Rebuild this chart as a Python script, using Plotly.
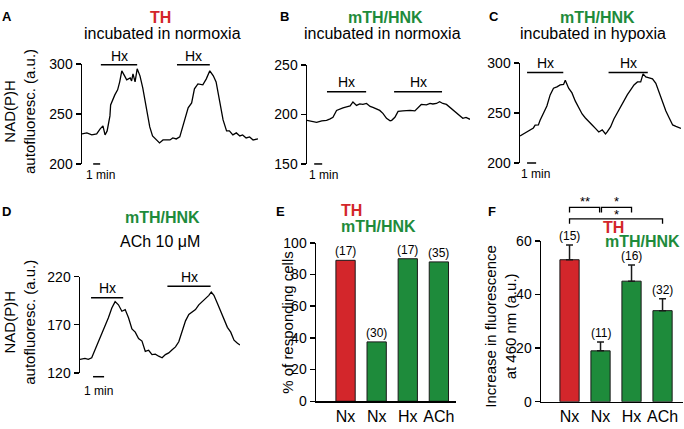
import plotly.graph_objects as go

# ---------------- DATA ----------------
# Panel A: TH, incubated in normoxia (time in min, NAD(P)H autofluorescence a.u.)
A_t = [0, 0.7, 1.4, 2.1, 2.6, 3.0, 3.3, 3.6, 4.0, 4.1, 4.7, 5.1, 5.4, 5.7, 6.1, 6.4, 6.9, 7.1, 7.3, 7.6,
       7.9, 8.3, 8.7, 9.1, 9.4, 9.7, 10.1, 10.7, 11.1, 11.6, 12.1, 12.6, 13.0, 13.5, 14.0, 14.3, 14.7, 15.2,
       15.7, 16.1, 16.6, 17.1, 17.3, 17.8, 18.3, 18.8, 19.2, 19.7, 20.2, 20.7, 21.1, 21.6, 22.1, 22.6, 23.0,
       23.5, 24.0, 24.5, 25.2]
A_v = [230, 231, 229, 230, 235, 238, 229, 233, 248, 259, 269, 274, 282, 293, 288, 284, 286, 283, 290, 282,
       295, 288, 276, 260, 247, 237, 228, 224, 221, 224, 224, 224, 226, 225, 227, 234, 245, 256,
       261, 275, 280, 279, 279, 285, 293, 288, 282, 263, 244, 233, 233, 229, 231, 228, 229,
       226, 227, 224, 225]
A_hx = [(2.7, 7.9), (13.6, 18.3)]
A_scale = 1.6

# Panel B: mTH/HNK, incubated in normoxia
B_t = [0, 0.75, 1.2, 1.85, 2.45, 2.9, 3.25, 3.7, 4.1, 4.5, 4.95, 5.4, 5.75, 6.2, 6.6, 7.0, 7.45, 7.9, 8.25,
       8.7, 9.1, 9.5, 9.95, 10.4, 10.6, 11.0, 11.4, 12.0, 12.9, 13.5, 13.9, 14.3, 14.95, 15.4, 15.75, 16.2,
       16.6, 17.0, 17.45, 17.9, 18.25, 18.7, 19.1, 19.5, 19.9, 20.4]
B_v = [194, 193, 192, 193.5, 194, 195.5, 197, 204, 205.5, 206.5, 207.5, 208.5, 212.5, 209, 210.5, 210, 211,
       208, 207, 205.5, 204, 201, 196, 193.5, 194, 197, 203, 203.5, 204, 203.5, 206.5, 210, 209.5, 211,
       210.5, 211, 212.8, 211, 210, 207, 204, 201, 198.5, 196, 197, 195]
B_hx = [(2.5, 7.4), (10.9, 16.9)]
B_scale = 0.9

# Panel C: mTH/HNK, incubated in hypoxia
C_t = [0, 0.37, 0.74, 1.11, 1.48, 1.67, 2.03, 2.22, 2.59, 2.97, 3.33, 3.7, 4.08, 4.44, 4.81, 5.0, 5.37, 5.74,
       6.11, 6.48, 6.86, 7.22, 7.59, 7.97, 8.33, 8.7, 9.08, 9.44, 9.63, 10.0, 10.37, 10.74, 11.11, 11.48,
       11.86, 12.22, 12.59, 12.97, 13.33, 13.59, 13.89, 14.26, 14.63, 15.0, 15.37, 15.74, 16.11, 16.48,
       16.86, 17.22, 17.78]
C_v = [227, 229, 231.4, 233, 235, 237.8, 238, 242.6, 249, 257, 268, 274.7, 276, 278, 278.5, 282.7, 274.7, 270,
       261.8, 256, 249, 245, 241, 238, 234.6, 231, 233, 229, 231, 236, 244, 250, 257, 262,
       268.3, 273, 278, 281, 281, 289, 286, 285, 284, 279.5, 270, 262, 252, 245,
       238, 236.5, 234.6]
C_hx = [(0.78, 4.78), (9.78, 14.11)]
C_scale = 0.78

# Panel D: mTH/HNK, ACh 10 uM
D_t = [0, 0.45, 0.75, 1.06, 1.36, 1.66, 1.97, 2.27, 2.57, 2.88, 3.18, 3.48, 3.79, 4.09, 4.39, 4.7, 5.0, 5.3,
       5.61, 5.91, 6.21, 6.52, 6.82, 7.12, 7.43, 7.73, 8.03, 8.34, 8.64, 8.94, 9.25, 9.55, 9.85, 10.15,
       10.45, 10.75, 11.06, 11.36, 11.66, 11.88, 12.12, 12.43, 12.73, 13.03, 13.34, 13.64, 13.94, 14.25, 14.48]
D_v = [134, 135, 134, 135.7, 144, 152.3, 159, 167.3, 177.3, 187.3, 194, 190.7, 184, 185.7, 177.3, 165.7, 162.3,
       155.7, 153, 142.3, 143.5, 139, 139.5, 137.3, 135.7, 139, 140.7, 144, 147, 152.3, 164, 174, 180.7, 183,
       185.7, 190.7, 194, 197.3, 200.5, 204, 200.5, 192.3, 184, 175.7, 167.3, 162.3, 154, 150.7, 149]
D_hx = [(1.0, 3.91), (7.91, 11.82)]
D_scale = 1.18

# Panel E: % of responding cells
E_cats = ["Nx", "Nx", "Hx", "ACh"]
E_vals = [89, 37.5, 90, 88]
E_n = ["(17)", "(30)", "(17)", "(35)"]

# Panel F: increase in fluorescence at 460 nm
F_cats = ["Nx", "Nx", "Hx", "ACh"]
F_vals = [53, 19, 45, 34]
F_err = [5.5, 3.3, 6.0, 4.4]
F_n = ["(15)", "(11)", "(16)", "(32)"]

# ---------------- LAYOUT HELPERS ----------------
W, H = 684, 429
RED = "#d3262b"
GREEN = "#1e8b3b"
FONT = "Liberation Sans, Arial, Helvetica, sans-serif"


def px(x):
    return x / W


def py(y):
    return 1 - y / H


fig = go.Figure()
layout = dict(
    width=W, height=H, autosize=False, margin=dict(l=0, r=0, t=0, b=0, pad=0),
    paper_bgcolor="white", plot_bgcolor="white",
    font=dict(family=FONT, size=14, color="black"),
    showlegend=False,
)
annotations = []
shapes = []


def yaxis_style(dom, rng, tickvals):
    return dict(domain=[py(dom[0]), py(dom[1])], range=rng, tickvals=tickvals,
                showline=True, linecolor="black", linewidth=1.5, ticks="outside",
                ticklen=5, tickwidth=1.5, tickcolor="black", showgrid=False,
                zeroline=False, tickfont=dict(size=14, family=FONT, color="black"))


def text(x, y, s, size=14, color="black", bold=False, xanchor="center", xref="paper",
         yref="paper", angle=0, yanchor="middle", yshift=0):
    if bold:
        s = "<b>" + s + "</b>"
    annotations.append(dict(x=x, y=y, xref=xref, yref=yref, text=s, showarrow=False,
                            xanchor=xanchor, yanchor=yanchor, textangle=angle, yshift=yshift,
                            font=dict(size=size, color=color, family=FONT)))


trace_panels = [
    dict(t=A_t, v=A_v, xd=(82, 258), yd=(162, 58), yr=[200, 300], tv=[200, 250, 300], hx=A_hx,
         hxy=[59, 59], hxt=[50, 50], sc=A_scale, scy=162, mn=(100, 173)),
    dict(t=B_t, v=B_v, xd=(307, 470), yd=(162, 59), yr=[150, 250], tv=[150, 200, 250], hx=B_hx,
         hxy=[87, 87], hxt=[77, 77], sc=B_scale, scy=162, mn=(323, 173)),
    dict(t=C_t, v=C_v, xd=(520, 681), yd=(161, 57), yr=[200, 300], tv=[200, 250, 300], hx=C_hx,
         hxy=[67, 67], hxt=[57, 57], sc=C_scale, scy=161, mn=(535, 172)),
    dict(t=D_t, v=D_v, xd=(80, 240), yd=(379, 279), yr=[120, 220], tv=[120, 170, 220], hx=D_hx,
         hxy=[301, 289], hxt=[291, 279], sc=D_scale, scy=383, mn=(98, 398)),
]

for i, p in enumerate(trace_panels, start=1):
    sx = "" if i == 1 else str(i)
    fig.add_trace(go.Scatter(x=p["t"], y=p["v"], mode="lines",
                             line=dict(color="black", width=1.3),
                             xaxis="x" + sx, yaxis="y" + sx, hoverinfo="skip"))
    layout["xaxis" + sx] = dict(domain=[px(p["xd"][0]), px(p["xd"][1])], range=[0, p["t"][-1]],
                                visible=False, anchor="y" + sx)
    ya = yaxis_style(p["yd"], p["yr"], p["tv"])
    ya["anchor"] = "x" + sx
    layout["yaxis" + sx] = ya
    for (h0, h1), by, ty in zip(p["hx"], p["hxy"], p["hxt"]):
        shapes.append(dict(type="line", xref="x" + sx, yref="paper", x0=h0, x1=h1,
                           y0=py(by), y1=py(by), line=dict(color="black", width=1.5)))
        text((h0 + h1) / 2, py(ty), "Hx", size=14, xref="x" + sx)
    shapes.append(dict(type="line", xref="x" + sx, yref="paper", x0=p["sc"], x1=p["sc"] + 1,
                       y0=py(p["scy"]), y1=py(p["scy"]), line=dict(color="black", width=1.5)))
    text(px(p["mn"][0]), py(p["mn"][1]), "1 min", size=12)

# ---- Bar panels ----
bar_panels = [
    dict(sx="5", xd=(316, 456), yd=(408.5, 244), yr=[0, 100], tv=[0, 20, 40, 60, 80, 100],
         xr=[-0.95, 3.55], cats=E_cats, vals=E_vals, err=None, n=E_n),
    dict(sx="6", xd=(541, 683), yd=(409, 242), yr=[0, 60], tv=[0, 20, 40, 60],
         xr=[-0.92, 3.66], cats=F_cats, vals=F_vals, err=F_err, n=F_n),
]
for b in bar_panels:
    sx = b["sx"]
    xs = list(range(len(b["vals"])))
    kw = {}
    if b["err"] is not None:
        kw["error_y"] = dict(type="data", array=b["err"], arrayminus=[0] * len(b["err"]),
                             symmetric=False, color="#1a1a1a", thickness=1.5, width=3.5)
    fig.add_trace(go.Bar(x=xs, y=b["vals"], width=0.62,
                         marker=dict(color=[RED, GREEN, GREEN, GREEN],
                                     line=dict(color="#1a1a1a", width=1)),
                         xaxis="x" + sx, yaxis="y" + sx, hoverinfo="skip", **kw))
    layout["xaxis" + sx] = dict(domain=[px(b["xd"][0]), px(b["xd"][1])], range=b["xr"],
                                tickvals=xs, ticktext=b["cats"], showline=True, linecolor="black",
                                linewidth=1.5, ticks="", showgrid=False, zeroline=False,
                                anchor="y" + sx, tickfont=dict(size=16, family=FONT, color="black"))
    ya = yaxis_style(b["yd"], b["yr"], b["tv"])
    ya["anchor"] = "x" + sx
    layout["yaxis" + sx] = ya
    for k, x in enumerate(xs):
        top = b["vals"][k] + (b["err"][k] if b["err"] is not None else 0)
        text(x, top, b["n"][k], size=12, xref="x" + sx, yref="y" + sx, yanchor="bottom", yshift=0)

# significance brackets in F
for (a0, a1, yt, yl) in [(0, 0.97, 207, 212.5), (1.03, 2, 207, 212.5), (0, 3, 219, 224)]:
    shapes.append(dict(type="path", xref="x6", yref="paper",
                       path=f"M {a0},{py(yl)} L {a0},{py(yt)} L {a1},{py(yt)} L {a1},{py(yl)}",
                       line=dict(color="black", width=1.3)))
text(0.5, py(201), "**", size=13, xref="x6")
text(1.5, py(201), "*", size=13, xref="x6")
text(1.5, py(214), "*", size=13, xref="x6")

# ---- titles ----
text(px(160), py(10), "TH", size=16, color=RED, bold=True)
text(px(162), py(27), "incubated in normoxia", size=16)
text(px(385), py(10), "mTH/HNK", size=16, color=GREEN, bold=True)
text(px(382), py(27), "incubated in normoxia", size=16)
text(px(597), py(10), "mTH/HNK", size=16, color=GREEN, bold=True)
text(px(593), py(27), "incubated in hypoxia", size=16)
text(px(162), py(218), "mTH/HNK", size=16, color=GREEN, bold=True)
text(px(160), py(243), "ACh 10 μM", size=16)
text(px(339), py(210), "TH", size=16, color=RED, bold=True, xanchor="left")
text(px(339), py(227), "mTH/HNK", size=16, color=GREEN, bold=True, xanchor="left")
text(px(613), py(228), "TH", size=16, color=RED, bold=True)
text(px(642), py(243), "mTH/HNK", size=16, color=GREEN, bold=True)

# ---- axis titles ----
text(px(20), py(108), "NAD(P)H<br>autofluoresc. (a.u.)", size=15, angle=-90)
text(px(20), py(327), "NAD(P)H<br>autofluoresc. (a.u.)", size=15, angle=-90)
text(px(288), py(327), "% of responding cells", size=15, angle=-90)
text(px(501), py(330), "Increase in fluorescence<br>at 460 nm (a.u.)", size=15, angle=-90)

# ---- panel letters ----
for L, x, y in [("A", 7, 9), ("B", 284, 9), ("C", 494, 9), ("D", 6, 211), ("E", 280, 211), ("F", 492, 211)]:
    text(px(x), py(y), L, size=13, bold=True)

layout["annotations"] = annotations
layout["shapes"] = shapes
fig.update_layout(**layout)
fig.write_html("out.html",
               config={"displayModeBar": False, "responsive": False, "staticPlot": True},
               post_script="document.body.style.margin='0';document.body.style.padding='0';"
                           "document.body.style.overflow='hidden';")
